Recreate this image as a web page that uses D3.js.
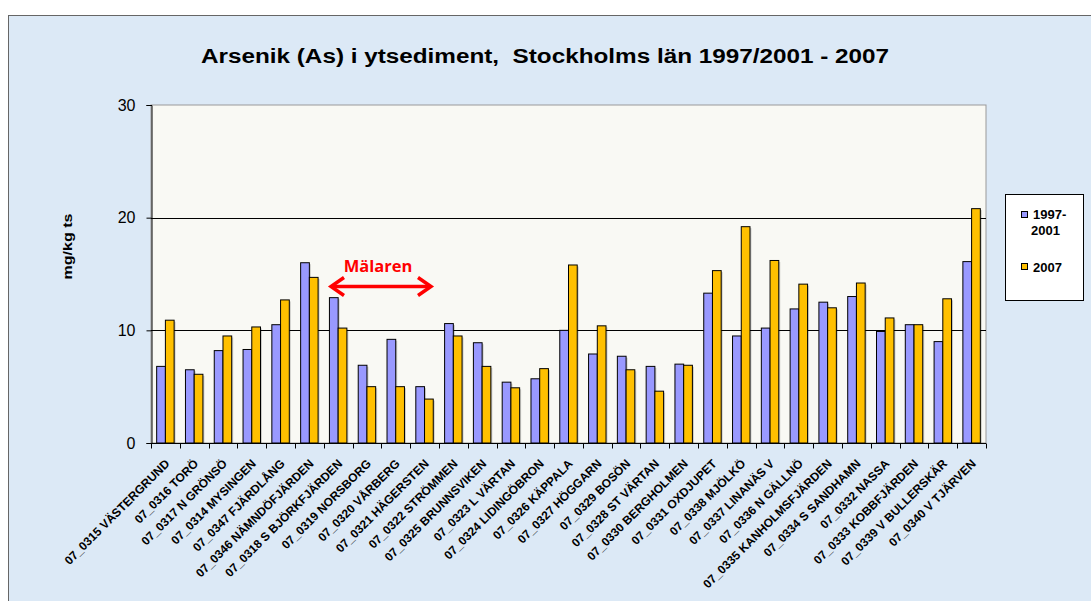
<!DOCTYPE html>
<html><head><meta charset="utf-8">
<script src="https://cdn.jsdelivr.net/npm/d3@7"></script>
<style>
html,body{margin:0;padding:0;background:#fff;}
svg{display:block;}
text{font-family:"Liberation Sans",Arial,sans-serif;}
</style></head>
<body>
<svg id="c" width="1091" height="601"></svg>
<script>
const categories = [
"07_0315 VÄSTERGRUND","07_0316 TORÖ","07_0317 N GRÖNSÖ","07_0314 MYSINGEN","07_0347 FJÄRDLÅNG",
"07_0346 NÄMNDÖFJÄRDEN","07_0318 S BJÖRKFJÄRDEN","07_0319 NORSBORG","07_0320 VÅRBERG","07_0321 HÄGERSTEN",
"07_0322 STRÖMMEN","07_0325 BRUNNSVIKEN","07_0323 L VÄRTAN","07_0324 LIDINGÖBRON","07_0326 KÄPPALA",
"07_0327 HÖGGARN","07_0329 BOSÖN","07_0328 ST VÄRTAN","07_0330 BERGHOLMEN","07_0331 OXDJUPET",
"07_0338 MJÖLKÖ","07_0337 LINANÄS V","07_0336 N GÄLLNÖ","07_0335 KANHOLMSFJÄRDEN","07_0334 S SANDHAMN",
"07_0332 NASSA","07_0333 KOBBFJÄRDEN","07_0339 V BULLERSKÄR","07_0340 V TJÄRVEN"];
const series = ["1997-2001","2007"];
const values1997_2001 = [6.8,6.5,8.2,8.3,10.5,16.0,12.9,6.9,9.2,5.0,10.6,8.9,5.4,5.7,10.0,7.9,7.7,6.8,7.0,13.3,9.5,10.2,11.9,12.5,13.0,9.9,10.5,9.0,16.1];
const values2007 = [10.9,6.1,9.5,10.3,12.7,14.7,10.2,5.0,5.0,3.9,9.5,6.8,4.9,6.6,15.8,10.4,6.5,4.6,6.9,15.3,19.2,16.2,14.1,12.0,14.2,11.1,10.5,12.8,20.8];
const yTicks = [0,10,20,30];
const colors = ["#9999FF","#FFC000"];

const svg = d3.select("#c");
svg.append("rect").attr("x",8.5).attr("y",15.5).attr("width",1100).attr("height",600)
  .attr("fill","#DCE9F6").attr("stroke","#666").attr("stroke-width",1);

const L=151,R=986,T=105,B=443;
const x0 = d3.scaleBand().domain(categories).range([L,R]).paddingInner(0).paddingOuter(0);
const x1 = d3.scaleBand().domain(series).range([0,x0.bandwidth()]).paddingInner(0).paddingOuter(0.65);
const y = d3.scaleLinear().domain([0,30]).range([B,T]);

svg.append("rect").attr("x",L).attr("y",T).attr("width",R-L).attr("height",B-T)
  .attr("fill","#F9F9F4").attr("stroke","#999").attr("stroke-width",1);

svg.append("g").selectAll("line").data(yTicks.filter(d=>d>0&&d<30)).join("line")
  .attr("x1",L).attr("x2",R).attr("y1",d=>Math.round(y(d))+0.5).attr("y2",d=>Math.round(y(d))+0.5)
  .attr("stroke","#000").attr("stroke-width",1);

const data = categories.map((c,i)=>({c, v:[values1997_2001[i],values2007[i]]}));
const g = svg.append("g");
data.forEach(d=>{
  series.forEach((s,j)=>{
    const bx = x0(d.c)+x1(s), by = y(d.v[j]);
    g.append("rect").attr("x",bx+1.5).attr("y",by+1.5).attr("width",x1.bandwidth()).attr("height",B-by-1.5)
      .attr("fill","rgba(0,0,0,0.18)");
  });
  series.forEach((s,j)=>{
    const bx = x0(d.c)+x1(s), by = y(d.v[j]);
    g.append("rect").attr("x",bx).attr("y",by).attr("width",x1.bandwidth()).attr("height",B-by)
      .attr("fill",colors[j]).attr("stroke","#000").attr("stroke-width",1);
  });
});

const yAxis = d3.axisLeft(y).tickValues(yTicks).tickSize(5).tickPadding(11).tickFormat(d3.format("d"));
const ya = svg.append("g").attr("transform",`translate(${L+0.5},0)`).call(yAxis);
ya.select(".domain").attr("stroke","#000");
ya.selectAll(".tick line").attr("stroke","#000");
ya.selectAll("text").attr("font-size",16).attr("fill","#000").style("font-family","'Liberation Sans',Arial,sans-serif");

const xa = svg.append("g").attr("transform",`translate(0,${B+0.5})`);
xa.append("line").attr("x1",L).attr("x2",R).attr("stroke","#000");
const bounds = categories.map(c=>x0(c)).concat([R]);
xa.selectAll("line.t").data(bounds).join("line").attr("class","t")
  .attr("x1",d=>Math.round(d)+0.5).attr("x2",d=>Math.round(d)+0.5).attr("y1",0).attr("y2",5).attr("stroke","#000");
xa.selectAll("text").data(categories).join("text")
  .attr("transform",c=>`translate(${x0(c)+x0.bandwidth()/2+2},${18}) rotate(-45)`)
  .attr("text-anchor","end").attr("dy","0.35em")
  .attr("font-size",12).attr("font-weight","bold").attr("fill","#000").text(c=>c);

svg.append("text").attr("x",201).attr("y",63).attr("text-anchor","start")
  .attr("font-size",20).attr("font-weight","bold").attr("fill","#000")
  .attr("textLength",688).attr("lengthAdjust","spacingAndGlyphs")
  .style("white-space","pre")
  .text("Arsenik (As) i ytsediment,  Stockholms län 1997/2001 - 2007");

svg.append("text").attr("transform","translate(72,246.5) rotate(-90)").attr("text-anchor","middle")
  .attr("font-size",12.5).attr("font-weight","bold").attr("fill","#000")
  .attr("textLength",66).attr("lengthAdjust","spacingAndGlyphs").text("mg/kg ts");

svg.append("rect").attr("x",1005.5).attr("y",194.5).attr("width",78).attr("height",106)
  .attr("fill","#fff").attr("stroke","#000");
svg.append("rect").attr("x",1021.5).attr("y",211.5).attr("width",6).attr("height",6)
  .attr("fill",colors[0]).attr("stroke","#000");
svg.append("text").attr("x",1033).attr("y",218.5).attr("font-size",13).attr("font-weight","bold").text("1997-");
svg.append("text").attr("x",1045.5).attr("y",235).attr("text-anchor","middle").attr("font-size",13).attr("font-weight","bold").text("2001");
svg.append("rect").attr("x",1021.5).attr("y",263.5).attr("width",6).attr("height",6)
  .attr("fill",colors[1]).attr("stroke","#000");
svg.append("text").attr("x",1033).attr("y",272).attr("font-size",13).attr("font-weight","bold").text("2007");

svg.append("text").attr("x",378).attr("y",272).attr("text-anchor","middle")
  .attr("font-size",16.5).attr("font-weight","bold").attr("fill","#FF0000")
  .style("font-family","'Open Sans',sans-serif").text("Mälaren");
const ay=286.5, ax1=330, ax2=432;
svg.append("line").attr("x1",ax1+4).attr("x2",ax2-4).attr("y1",ay).attr("y2",ay).attr("stroke","#FF0000").attr("stroke-width",3.5);
svg.append("path").attr("d",`M${ax1+14},${ay-9} L${ax1+1},${ay} L${ax1+14},${ay+9}`).attr("fill","none").attr("stroke","#FF0000").attr("stroke-width",3.5);
svg.append("path").attr("d",`M${ax2-14},${ay-9} L${ax2-1},${ay} L${ax2-14},${ay+9}`).attr("fill","none").attr("stroke","#FF0000").attr("stroke-width",3.5);
</script>
</body></html>
